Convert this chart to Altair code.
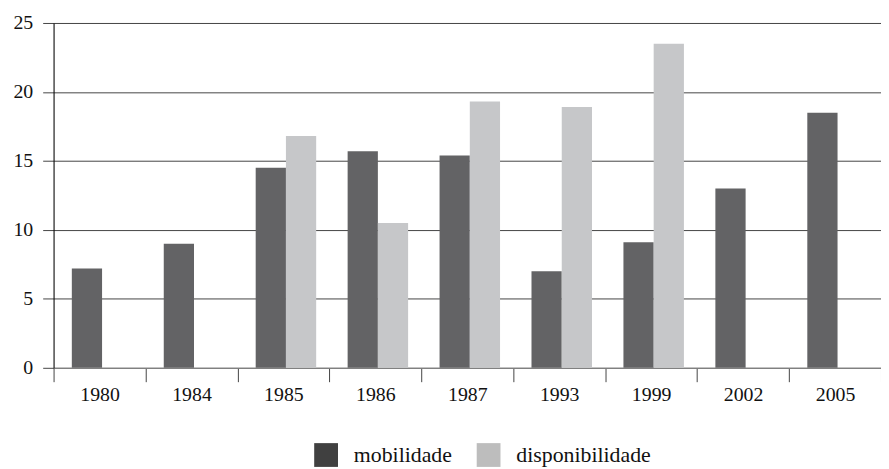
import altair as alt
import pandas as pd

years = ["1980", "1984", "1985", "1986", "1987", "1993", "1999", "2002", "2005"]
mobilidade = [7.2, 9.0, 14.5, 15.7, 15.4, 7.0, 9.1, 13.0, 18.5]
disponibilidade = [None, None, 16.8, 10.5, 19.3, 18.9, 23.5, None, None]
series = ["mobilidade", "disponibilidade"]
bar_colors = ["#636365", "#c6c7c9"]
legend_colors = ["#404040", "#bdbdbd"]
y_ticks = [0, 5, 10, 15, 20, 25]

rows = []
for yr, m, d in zip(years, mobilidade, disponibilidade):
    rows.append({"ano": yr, "serie": series[0], "valor": m})
    if d is not None:
        rows.append({"ano": yr, "serie": series[1], "valor": d})
df = pd.DataFrame(rows)

FONT = "Liberation Serif"

x = alt.X("ano:N", sort=years, title=None,
          scale=alt.Scale(paddingInner=0, paddingOuter=0),
          axis=alt.Axis(labelAngle=0, labelFont=FONT, labelFontSize=20, labelColor="#111",
                        tickBand="extent", tickSize=14, tickColor="#444", tickWidth=1,
                        domainColor="#888", domainWidth=1, labelPadding=3, grid=False))
xo = alt.XOffset("serie:N", sort=series,
                 scale=alt.Scale(domain=series, paddingInner=0, paddingOuter=0.52, align=0.58))
y = alt.Y("valor:Q", title=None,
          scale=alt.Scale(domain=[0, 25], nice=False),
          axis=alt.Axis(values=y_ticks, labelFont=FONT, labelFontSize=20, labelColor="#111",
                        tickSize=11, tickColor="#444", gridColor="#444", gridWidth=1,
                        domainColor="#000", domainWidth=1, labelPadding=10))

base = alt.Chart(df)

bars = base.mark_bar().encode(
    x=x, xOffset=xo, y=y,
    color=alt.Color("serie:N", sort=series,
                    scale=alt.Scale(domain=series, range=bar_colors), legend=None),
)

legend_layer = base.mark_square(opacity=0, size=576).encode(
    x=x, xOffset=xo, y=y,
    color=alt.Color("serie:N", sort=series,
                    scale=alt.Scale(domain=series, range=legend_colors),
                    legend=alt.Legend(title=None, orient="none", legendX=263, legendY=424,
                                      direction="horizontal", symbolType="square",
                                      symbolSize=576, symbolOpacity=1, symbolStrokeWidth=0,
                                      labelFont=FONT, labelFontSize=22, labelColor="#111",
                                      labelOffset=16, columnPadding=25, padding=0,
                                      labelLimit=300)),
)

chart = alt.layer(bars, legend_layer).resolve_scale(color="independent").properties(
    width=835, height=348,
    autosize=alt.AutoSizeParams(type="none"),
    padding={"left": 46, "top": 13, "right": 0, "bottom": 100},
).configure_view(stroke=None).configure(background="white")

chart.save("out.html", embed_options={"renderer": "svg", "actions": False})
